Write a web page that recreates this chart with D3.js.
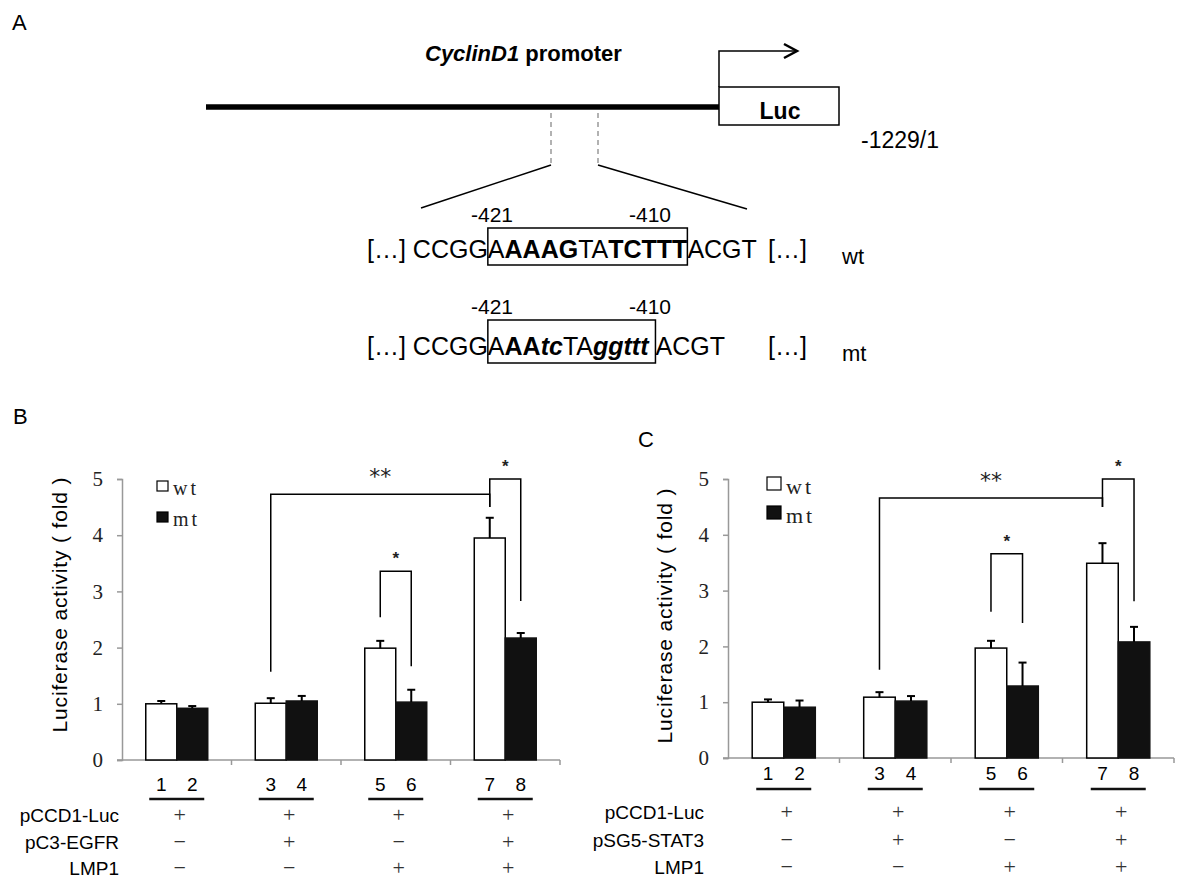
<!DOCTYPE html>
<html>
<head>
<meta charset="utf-8">
<script src="https://cdn.jsdelivr.net/npm/d3@7"></script>
<style>
  body { margin: 0; background: #fff; }
  svg { display: block; }
</style>
</head>
<body>
<svg id="fig" width="1200" height="894"></svg>
<script>
"use strict";

// lanes are drawn in pairs: wt then mt
const groups = ["g1", "g2", "g3", "g4"];
const series = ["wt", "mt"];
const laneNumbers = [["1", "2"], ["3", "4"], ["5", "6"], ["7", "8"]];
const yTicks = [0, 1, 2, 3, 4, 5];
const signs = [
  ["+", "+", "+", "+"],
  ["\u2212", "+", "\u2212", "+"],
  ["\u2212", "\u2212", "+", "+"]
];

// panel B
const wtB = [1.00, 1.01, 1.99, 3.95];
const wtErrB = [0.05, 0.09, 0.13, 0.36];
const mtB = [0.92, 1.05, 1.03, 2.17];
const mtErrB = [0.04, 0.09, 0.22, 0.09];
const rowsB = ["pCCD1-Luc", "pC3-EGFR", "LMP1"];
// brackets: lane from/to, top of bracket, where each leg stops (fold units)
const bracketsB = [
  { from: 3, to: 7, top: 4.73, left: 1.57, right: 4.50, label: "**" },
  { from: 7, to: 8, top: 5.00, left: 4.50, right: 2.83, label: "*" },
  { from: 5, to: 6, top: 3.36, left: 2.54, right: 1.67, label: "*" }
];

// panel C
const wtC = [1.00, 1.09, 1.97, 3.49];
const wtErrC = [0.05, 0.09, 0.13, 0.36];
const mtC = [0.91, 1.02, 1.29, 2.08];
const mtErrC = [0.12, 0.09, 0.42, 0.27];
const rowsC = ["pCCD1-Luc", "pSG5-STAT3", "LMP1"];
const bracketsC = [
  { from: 3, to: 7, top: 4.66, left: 1.58, right: 4.50, label: "**" },
  { from: 7, to: 8, top: 5.00, left: 4.50, right: 2.81, label: "*" },
  { from: 5, to: 6, top: 3.66, left: 2.62, right: 2.42, label: "*" }
];

const svg = d3.select("#fig");
const SANS = "Liberation Sans, Arial, sans-serif";
const SERIF = "Liberation Serif, Times New Roman, serif";

// ---------------- panel A : promoter diagram ----------------
const a = svg.append("g");
a.append("text").attr("x", 12).attr("y", 30).attr("font-family", SANS)
  .attr("font-size", 22).text("A");

const title = a.append("text").attr("x", 425).attr("y", 61)
  .attr("font-family", SANS).attr("font-size", 22).attr("font-weight", "bold");
title.append("tspan").attr("font-style", "italic").text("CyclinD1");
title.append("tspan").text(" promoter");

a.append("line").attr("x1", 206).attr("x2", 719).attr("y1", 107).attr("y2", 107)
  .attr("stroke", "#000").attr("stroke-width", 5.5);
a.append("rect").attr("x", 719).attr("y", 87).attr("width", 120).attr("height", 38)
  .attr("fill", "#fff").attr("stroke", "#000").attr("stroke-width", 1.5);
a.append("text").attr("x", 780).attr("y", 119).attr("text-anchor", "middle")
  .attr("font-family", SANS).attr("font-size", 23).attr("font-weight", "bold").text("Luc");
a.append("path").attr("d", "M719,87V51H796").attr("fill", "none")
  .attr("stroke", "#000").attr("stroke-width", 1.5);
a.append("path").attr("d", "M784,44L797,51L784,58").attr("fill", "none")
  .attr("stroke", "#000").attr("stroke-width", 2.5);
a.append("text").attr("x", 861).attr("y", 148).attr("font-family", SANS)
  .attr("font-size", 23).text("-1229/1");

[551, 598].forEach(function (xx) {
  a.append("line").attr("x1", xx).attr("x2", xx).attr("y1", 113).attr("y2", 164)
    .attr("stroke", "#999").attr("stroke-width", 1.5).attr("stroke-dasharray", "5,4");
});
a.append("line").attr("x1", 551).attr("y1", 165).attr("x2", 421).attr("y2", 208)
  .attr("stroke", "#000").attr("stroke-width", 1.5);
a.append("line").attr("x1", 598).attr("y1", 165).attr("x2", 747).attr("y2", 209)
  .attr("stroke", "#000").attr("stroke-width", 1.5);

// sequence lines, segments: text, bold, italic, inBox
const wtSeq = [
  ["[\u2026] CCGG", 0, 0, 0], ["A", 0, 0, 1], ["AAAG", 1, 0, 1], ["TA", 0, 0, 1],
  ["TCTTT", 1, 0, 1], ["ACGT", 0, 0, 0]
];
const mtSeq = [
  ["[\u2026] CCGG", 0, 0, 0], ["A", 0, 0, 1], ["AA", 1, 0, 1], ["tc", 1, 1, 1],
  ["TA", 0, 0, 1], ["ggttt", 1, 1, 1], ["\u00a0", 0, 0, 1], ["ACGT", 0, 0, 0]
];

function drawSeq(seq, baseline, boxTop, boxBottom, tag, tagBaseline) {
  let cx = 367, bx0 = null, bx1 = null;
  seq.forEach(function (s) {
    const t = a.append("text").attr("x", cx).attr("y", baseline)
      .attr("font-family", SANS).attr("font-size", 25)
      .attr("font-weight", s[1] ? "bold" : "normal")
      .attr("font-style", s[2] ? "italic" : "normal").text(s[0]);
    const w = t.node().getComputedTextLength();
    if (s[3]) { if (bx0 === null) bx0 = cx; bx1 = cx + w; }
    cx += w;
  });
  a.append("rect").attr("x", bx0).attr("y", boxTop).attr("width", bx1 - bx0)
    .attr("height", boxBottom - boxTop).attr("fill", "none")
    .attr("stroke", "#000").attr("stroke-width", 1.5);
  a.append("text").attr("x", 768).attr("y", baseline).attr("font-family", SANS)
    .attr("font-size", 25).text("[\u2026]");
  a.append("text").attr("x", 492).attr("y", boxTop - 6).attr("text-anchor", "middle")
    .attr("font-family", SANS).attr("font-size", 21).text("-421");
  a.append("text").attr("x", 650).attr("y", boxTop - 6).attr("text-anchor", "middle")
    .attr("font-family", SANS).attr("font-size", 21).text("-410");
  a.append("text").attr("x", 842).attr("y", tagBaseline).attr("font-family", SANS)
    .attr("font-size", 22).text(tag);
}
drawSeq(wtSeq, 258, 228, 265, "wt", 264);
drawSeq(mtSeq, 355, 320, 363, "mt", 361);

// ---------------- bar panels ----------------
function drawPanel(o) {
  const g = svg.append("g");
  const y = d3.scaleLinear().domain([0, 5]).range([o.yBase, o.yTop]);
  const x = d3.scaleBand().domain(groups).range([o.x0, o.x1])
    .paddingInner(0.434).paddingOuter(0.217);
  const xs = d3.scaleBand().domain(series).range([0, x.bandwidth()]);
  const laneX = function (lane) {
    const gi = Math.floor((lane - 1) / 2), si = (lane - 1) % 2;
    return x(groups[gi]) + xs(series[si]) + xs.bandwidth() / 2;
  };

  const data = [];
  groups.forEach(function (grp, i) {
    data.push({ grp: grp, s: "wt", v: o.wt[i], e: o.wtErr[i] });
    data.push({ grp: grp, s: "mt", v: o.mt[i], e: o.mtErr[i] });
  });

  g.append("text").attr("x", o.letterX).attr("y", o.letterY)
    .attr("font-family", SANS).attr("font-size", 22).text(o.letter);

  // y axis
  const ya = g.append("g").attr("transform", "translate(" + o.x0 + ",0)")
    .call(d3.axisLeft(y).tickValues(yTicks).tickSize(5).tickPadding(14)
      .tickFormat(d3.format("d")));
  ya.select(".domain").attr("stroke", "#999").attr("stroke-width", 1.5);
  ya.selectAll(".tick line").attr("stroke", "#999").attr("stroke-width", 1.5);
  ya.selectAll(".tick text").attr("font-family", SERIF).attr("font-size", 21)
    .attr("fill", "#222");

  // x axis with ticks between lane pairs
  g.append("line").attr("x1", o.x0 - 5).attr("x2", o.x1)
    .attr("y1", o.yBase).attr("y2", o.yBase).attr("stroke", "#999").attr("stroke-width", 1.5);
  g.selectAll(".xtick").data(d3.range(1, groups.length + 1)).enter().append("line")
    .attr("x1", function (i) { return o.x0 + i * x.step(); })
    .attr("x2", function (i) { return o.x0 + i * x.step(); })
    .attr("y1", o.yBase).attr("y2", o.yBase + 5)
    .attr("stroke", "#999").attr("stroke-width", 1.5);

  g.append("text")
    .attr("transform", "translate(" + o.labelX + "," + o.labelY + ") rotate(-90)")
    .attr("text-anchor", "middle").attr("dy", "0.35em")
    .attr("font-family", SANS).attr("font-size", 21)
    .attr("textLength", 255).attr("lengthAdjust", "spacing")
    .text("Luciferase activity ( fold )");

  // bars
  g.selectAll(".bar").data(data).enter().append("rect")
    .attr("x", function (d) { return x(d.grp) + xs(d.s); })
    .attr("width", xs.bandwidth())
    .attr("y", function (d) { return y(d.v); })
    .attr("height", function (d) { return y(0) - y(d.v); })
    .attr("fill", function (d) { return d.s === "wt" ? "#fff" : "#111"; })
    .attr("stroke", function (d) { return d.s === "wt" ? "#000" : "#111"; })
    .attr("stroke-width", 1.5);

  // error bars
  const cx = function (d) { return x(d.grp) + xs(d.s) + xs.bandwidth() / 2; };
  const eb = g.selectAll(".err").data(data).enter().append("g");
  eb.append("line").attr("x1", cx).attr("x2", cx)
    .attr("y1", function (d) { return y(d.v); })
    .attr("y2", function (d) { return y(d.v + d.e); })
    .attr("stroke", "#000").attr("stroke-width", 2);
  eb.append("line")
    .attr("x1", function (d) { return cx(d) - 4; })
    .attr("x2", function (d) { return cx(d) + 4; })
    .attr("y1", function (d) { return y(d.v + d.e); })
    .attr("y2", function (d) { return y(d.v + d.e); })
    .attr("stroke", "#000").attr("stroke-width", 2);

  // significance brackets
  o.brackets.forEach(function (b) {
    const xl = laneX(b.from), xr = laneX(b.to);
    g.append("path")
      .attr("d", "M" + xl + "," + y(b.left) + "V" + y(b.top) + "H" + xr + "V" + y(b.right))
      .attr("fill", "none").attr("stroke", "#000").attr("stroke-width", 1.5);
    const dbl = b.label.length > 1;
    g.append("text").attr("x", (xl + xr) / 2)
      .attr("y", y(b.top) - (dbl ? 10 : 7))
      .attr("text-anchor", "middle")
      .attr("font-family", dbl ? "DejaVu Sans, sans-serif" : SANS)
      .attr("font-weight", dbl ? "normal" : "bold")
      .attr("font-size", dbl ? 22 : 17).attr("fill", "#222").text(b.label);
  });

  // legend
  series.forEach(function (s, i) {
    const ly = o.legendY + i * o.legendGap;
    g.append("rect").attr("x", o.legendX).attr("y", ly)
      .attr("width", o.legendSize).attr("height", o.legendSize - 1)
      .attr("fill", s === "wt" ? "#fff" : "#111").attr("stroke", "#000").attr("stroke-width", 1.2);
    g.append("text").attr("x", o.legendX + o.legendSize + 5).attr("y", ly + o.legendSize + 3)
      .attr("font-family", SERIF).attr("font-size", o.legendFont)
      .attr("letter-spacing", 3).attr("fill", "#222").text(s);
  });

  // lane numbers and underline
  groups.forEach(function (grp, i) {
    laneNumbers[i].forEach(function (n, j) {
      g.append("text").attr("x", laneX(i * 2 + j + 1)).attr("y", o.numY + 6.8)
        .attr("text-anchor", "middle").attr("font-family", SANS).attr("font-size", 19)
        .text(n);
    });
    const gc = x(grp) + x.bandwidth() / 2;
    g.append("line").attr("x1", gc - 27.5).attr("x2", gc + 27.5)
      .attr("y1", o.lineY).attr("y2", o.lineY).attr("stroke", "#111").attr("stroke-width", 2.5);
  });

  // construct table
  o.rows.forEach(function (r, ri) {
    const ry = o.rowY[ri];
    g.append("text").attr("x", o.rowRight).attr("y", ry + 6.8).attr("text-anchor", "end")
      .attr("font-family", SANS).attr("font-size", 19).text(r);
    groups.forEach(function (grp, i) {
      g.append("text").attr("x", x(grp) + x.bandwidth() / 2 + 3).attr("y", ry + 6.8)
        .attr("text-anchor", "middle").attr("font-family", SERIF).attr("font-size", 22)
        .attr("fill", "#333").text(signs[ri][i]);
    });
  });
}

drawPanel({
  letter: "B", letterX: 13, letterY: 424,
  x0: 122, x1: 560, yBase: 760, yTop: 479,
  wt: wtB, wtErr: wtErrB, mt: mtB, mtErr: mtErrB, brackets: bracketsB, rows: rowsB,
  labelX: 60, labelY: 605,
  legendX: 157, legendY: 481, legendGap: 31, legendSize: 11, legendFont: 20,
  numY: 784, lineY: 799, rowY: [815, 842, 868], rowRight: 119
});

drawPanel({
  letter: "C", letterX: 638, letterY: 447,
  x0: 728, x1: 1174, yBase: 758, yTop: 479,
  wt: wtC, wtErr: wtErrC, mt: mtC, mtErr: mtErrC, brackets: bracketsC, rows: rowsC,
  labelX: 665, labelY: 616,
  legendX: 767, legendY: 477, legendGap: 29, legendSize: 14, legendFont: 22,
  numY: 773, lineY: 789, rowY: [812, 840, 867], rowRight: 704
});
</script>
</body>
</html>
